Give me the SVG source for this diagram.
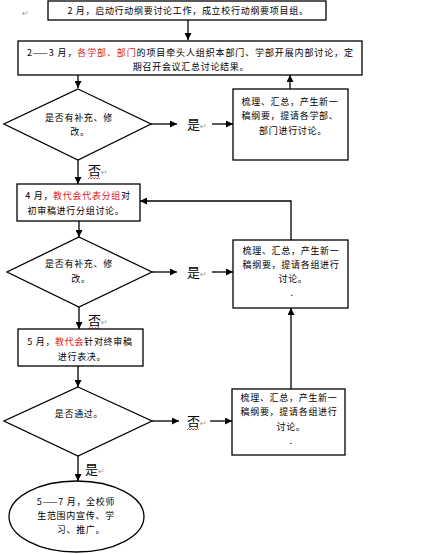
<svg xmlns="http://www.w3.org/2000/svg" width="421" height="554" viewBox="0 0 421 554">
<style>
.box{fill:#fff;stroke:#000;stroke-width:1.3}
.ln{fill:none;stroke:#000;stroke-width:1.3}
.t{font-family:"Noto Sans CJK SC","Liberation Sans",sans-serif;font-size:9px;letter-spacing:0.7px;fill:#000;text-anchor:middle}
.ts{text-anchor:start;letter-spacing:0}
.r{fill:#e02020}
.lb{font-family:"Noto Sans CJK SC","Liberation Sans",sans-serif;font-size:13px;fill:#000}
.pm{font-family:"DejaVu Sans",sans-serif;font-size:8px;fill:#999}
.wv{fill:none;stroke:#e02020;stroke-width:0.8}
</style>
<defs>
<marker id="ah" viewBox="0 0 10 10" refX="10" refY="5" markerWidth="7" markerHeight="7" markerUnits="userSpaceOnUse" orient="auto">
<path d="M0,0 L10,5 L0,10 Z" fill="#000"/>
</marker>
</defs>
<rect width="421" height="554" fill="#fff"/>
<text class="pm" x="22" y="16">↵</text>

<g id="connectors">
<line class="ln" x1="188" y1="20" x2="188" y2="40" marker-end="url(#ah)"/>
<line class="ln" x1="78" y1="75" x2="78" y2="88" marker-end="url(#ah)"/>
<line class="ln" x1="151" y1="124" x2="177" y2="124" marker-end="url(#ah)"/>
<line class="ln" x1="212" y1="124" x2="233" y2="124" marker-end="url(#ah)"/>
<line class="ln" x1="290" y1="89" x2="290" y2="75" marker-end="url(#ah)"/>
<line class="ln" x1="78" y1="160" x2="78" y2="184" marker-end="url(#ah)"/>
<polyline class="ln" points="291,240 291,201 140,201" marker-end="url(#ah)"/>
<line class="ln" x1="79" y1="221" x2="79" y2="237" marker-end="url(#ah)"/>
<line class="ln" x1="152" y1="272" x2="177" y2="272" marker-end="url(#ah)"/>
<line class="ln" x1="212" y1="272" x2="233" y2="272" marker-end="url(#ah)"/>
<line class="ln" x1="79" y1="307" x2="79" y2="329" marker-end="url(#ah)"/>
<line class="ln" x1="291" y1="389" x2="291" y2="308" marker-end="url(#ah)"/>
<line class="ln" x1="78" y1="366" x2="78" y2="387" marker-end="url(#ah)"/>
<line class="ln" x1="152" y1="421" x2="179" y2="421" marker-end="url(#ah)"/>
<line class="ln" x1="210" y1="421" x2="232" y2="421" marker-end="url(#ah)"/>
<line class="ln" x1="78" y1="456" x2="78" y2="481" marker-end="url(#ah)"/>
</g>

<g id="labels">
<text class="lb" x="187" y="129">是</text><text class="pm" x="200" y="129">↵</text>
<text class="lb" x="88" y="175">否</text><text class="pm" x="101" y="175">↵</text>
<path class="wv" d="M88,179 l1.5,-1.5 l1.5,1.5 l1.5,-1.5 l1.5,1.5 l1.5,-1.5 l1.5,1.5 l1.5,-1.5 l1.5,1.5"/>
<text class="lb" x="187" y="277">是</text><text class="pm" x="200" y="277">↵</text>
<text class="lb" x="88" y="325">否</text><text class="pm" x="101" y="325">↵</text>
<path class="wv" d="M88,329 l1.5,-1.5 l1.5,1.5 l1.5,-1.5 l1.5,1.5 l1.5,-1.5 l1.5,1.5 l1.5,-1.5 l1.5,1.5"/>
<text class="lb" x="187" y="426">否</text><text class="pm" x="200" y="426">↵</text>
<path class="wv" d="M187,430 l1.5,-1.5 l1.5,1.5 l1.5,-1.5 l1.5,1.5 l1.5,-1.5 l1.5,1.5 l1.5,-1.5 l1.5,1.5"/>
<text class="lb" x="85" y="474">是</text><text class="pm" x="98" y="474">↵</text>
</g>

<g id="n1">
<rect class="box" x="48" y="1" width="278" height="19"/>
<text class="t" x="188" y="14">2 月，启动行动纲要讨论工作，成立校行动纲要项目组。</text>
</g>

<g id="n2">
<rect class="box" x="18" y="41" width="344" height="34"/>
<text class="t ts" x="27" y="56" textLength="326" lengthAdjust="spacing">2——3 月，<tspan class="r">各学部、部门</tspan>的项目牵头人组织本部门、学部开展内部讨论，定</text>
<text class="t" x="191" y="70">期召开会议汇总讨论结果。</text>
</g>

<g id="d1">
<polygon class="box" points="78,89 151,124 78,160 4,124"/>
<text class="t" x="79" y="121">是否有补充、修</text>
<text class="t" x="80" y="135">改。</text>
</g>

<g id="r1">
<rect class="box" x="233" y="89" width="115" height="71"/>
<text class="t" x="290" y="105">梳理、汇总，产生新一</text>
<text class="t" x="290" y="119">稿纲要，提请各学部、</text>
<text class="t" x="293" y="133.5">部门进行讨论。</text>
</g>

<g id="n3">
<rect class="box" x="17" y="184" width="123" height="37"/>
<text class="t" x="78" y="199">4 月，<tspan class="r">教代会代表分组</tspan>对</text>
<text class="t" x="76" y="214">初审稿进行分组讨论。</text>
</g>

<g id="d2">
<polygon class="box" points="79,237 152,272 79,307 7,272"/>
<text class="t" x="79" y="267">是否有补充、修</text>
<text class="t" x="81" y="282">改。</text>
</g>

<g id="r2">
<rect class="box" x="233" y="240" width="115" height="68"/>
<text class="t" x="291" y="254">梳理、汇总，产生新一</text>
<text class="t" x="291" y="268">稿纲要，提请各组进行</text>
<text class="t" x="293" y="282">讨论。</text>
<text class="t" x="292" y="296">.</text>
</g>

<g id="n4">
<rect class="box" x="18" y="329" width="125" height="37"/>
<text class="t" x="80" y="345">5 月，<tspan class="r">教代会</tspan>针对终审稿</text>
<text class="t" x="82" y="360">进行表决。</text>
</g>

<g id="d3">
<polygon class="box" points="78,387 152,421 78,456 4,421"/>
<text class="t" x="79" y="417">是否通过。</text>
</g>

<g id="r3">
<rect class="box" x="232" y="389" width="113" height="66"/>
<text class="t" x="289" y="401">梳理、汇总，产生新一</text>
<text class="t" x="289" y="415">稿纲要，提请各组进行</text>
<text class="t" x="291" y="430">讨论。</text>
<text class="t" x="291" y="444">.</text>
</g>

<g id="e1">
<ellipse class="box" cx="76.5" cy="516.5" rx="67.5" ry="35.5"/>
<text class="t" x="76" y="505">5——7 月，全校师</text>
<text class="t" x="76" y="519">生范围内宣传、学</text>
<text class="t" x="81" y="533">习、推广。</text>
</g>
</svg>
